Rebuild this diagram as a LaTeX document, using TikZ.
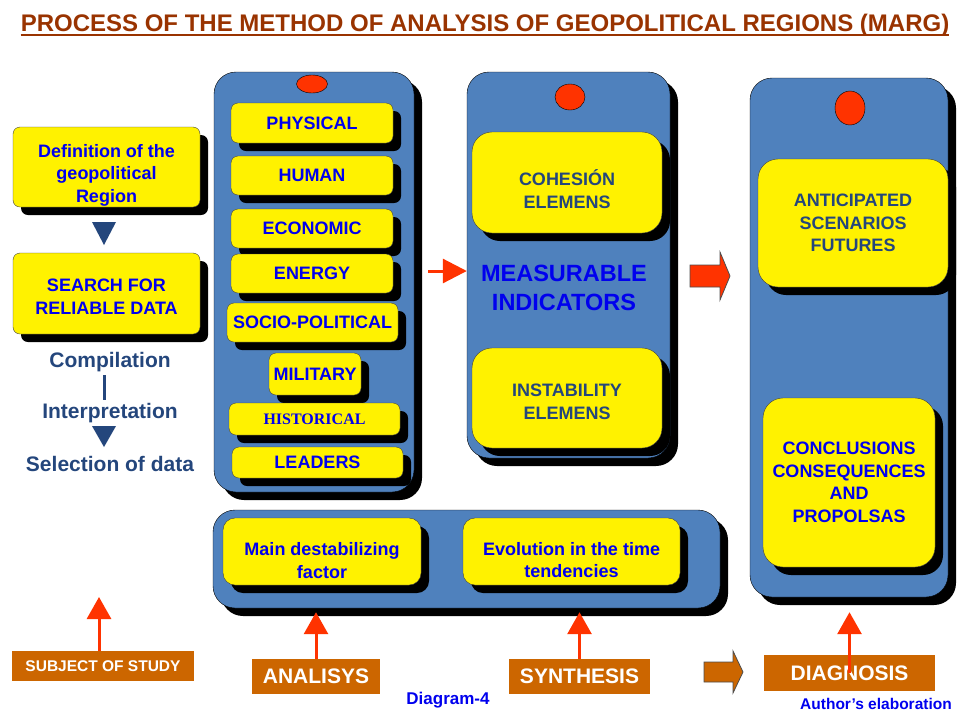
\documentclass[tikz,border=0pt]{standalone}
\usepackage{fontspec}
\setmainfont{Liberation Sans}
\newfontfamily\histfont{Liberation Serif}
\usetikzlibrary{arrows.meta,shadows,shapes.geometric,calc,positioning}

\definecolor{titlered}{RGB}{153,51,0}
\definecolor{panelblue}{RGB}{79,129,189}
\definecolor{textblue}{RGB}{0,0,238}
\definecolor{navy}{RGB}{36,70,124}
\definecolor{arrowred}{RGB}{255,51,0}
\definecolor{tagbrown}{RGB}{204,102,0}

\tikzset{
  blackshadow/.style={drop shadow={shadow xshift=8pt,shadow yshift=-8pt,opacity=1,fill=black}},
  panel/.style={draw=black, fill=panelblue, rounded corners=22pt, blackshadow},
  card/.style={draw=black!75, fill=yellow, rounded corners=7pt, inner sep=0pt, align=center,
    text=textblue, font=\fontsize{18}{22.5}\selectfont\bfseries, blackshadow},
  bigcard/.style={card, rounded corners=20pt},
  dot/.style={ellipse, draw=black, fill=arrowred, inner sep=0pt},
  note/.style={text=navy, font=\fontsize{21}{25}\selectfont\bfseries},
  tag/.style={fill=tagbrown, text=white, inner sep=0pt, font=\fontsize{21}{25}\selectfont\bfseries},
  uparrow/.style={draw=arrowred, line width=3pt, -{Triangle[width=24pt,length=22pt]}},
  blockarrow/.style={draw=black!70, line width=0.8pt}
}

\begin{document}
\begin{tikzpicture}[x=1pt,y=-1pt]
\useasboundingbox (0,0) rectangle (957,713);

% title
\node[anchor=base, inner sep=0pt, text=titlered, font=\fontsize{24}{28}\selectfont\bfseries] (title) at (485,31)
  {PROCESS OF THE METHOD OF ANALYSIS OF GEOPOLITICAL REGIONS (MARG)};
\draw[titlered, line width=2pt] ([yshift=-4pt]title.base west) -- ([yshift=-4pt]title.base east);

% left column
\node[card, minimum width=187pt, minimum height=80pt] (def) at (106.5,167) {\rule{0pt}{29pt}Definition of the\\geopolitical\\Region};
\node[card, minimum width=187pt, minimum height=81pt] (search) at (106.5,293.5) {\rule{0pt}{19pt}SEARCH FOR\\RELIABLE DATA};
\fill[navy] (92,222) -- (116,222) -- (104,245) -- cycle;
\node[note] (comp) at (110,362) {Compilation};
\node[note] (interp) at (110,413) {Interpretation};
\node[note] (sel) at (110,464) {Selection of data};
\draw[navy, line width=3pt] ([xshift=-6pt]comp.south) -- ([xshift=-6pt]interp.north);
\fill[navy] (92,426) -- (116,426) -- (104,447) -- cycle;

% factors
\node[panel, minimum width=200pt, minimum height=420pt] (factors) at (314,282) {};
\node[dot, minimum width=31pt, minimum height=18pt] (dot1) at (312,84) {};
\foreach \n/\x/\y/\w/\h/\txt in {
    phys/312/123/162/40/PHYSICAL,
    human/312/175.5/162/39/HUMAN,
    econ/312/228.5/162/39/ECONOMIC,
    energy/312/273.5/162/39/ENERGY,
    socio/312.5/322.5/171/39/SOCIO-POLITICAL,
    mil/315/374/92/42/MILITARY,
    hist/314.5/419/171/32/{\histfont\fontsize{16}{19}\selectfont HISTORICAL},
    lead/317.5/462.5/171/31/LEADERS}
    \node[card, minimum width=\w pt, minimum height=\h pt] (\n) at (\x,\y) {\txt};

% indicators
\node[panel, minimum width=203pt, minimum height=386pt] (indic) at (568.5,265) {};
\node[dot, minimum width=30pt, minimum height=26pt] (dot2) at (570,97) {};
\node[bigcard, text=navy, minimum width=190pt, minimum height=101pt] (cohes) at (567,182.5) {\rule{0pt}{29pt}COHESIÓN\\ELEMENS};
\node[text=textblue, align=center, font=\fontsize{23.5}{29}\selectfont\bfseries] (meas) at (564,288) {MEASURABLE\\INDICATORS};
\node[bigcard, text=navy, minimum width=190pt, minimum height=100pt] (instab) at (567,398) {\rule{0pt}{20pt}INSTABILITY\\ELEMENS};

% outcomes
\node[panel, minimum width=198pt, minimum height=519pt] (outcome) at (849,337.5) {};
\node[dot, minimum width=30pt, minimum height=34pt] (dot3) at (850,108) {};
\node[bigcard, text=navy, minimum width=190pt, minimum height=128pt] (antic) at (853,223) {ANTICIPATED\\SCENARIOS\\FUTURES};
\node[bigcard, minimum width=172pt, minimum height=169pt] (concl) at (849,482.5) {CONCLUSIONS\\CONSEQUENCES\\AND\\PROPOLSAS};

% method
\node[panel, minimum width=507pt, minimum height=98pt] (method) at (466.5,559) {};
\node[card, rounded corners=12pt, minimum width=198pt, minimum height=67pt] (mainfac) at (322,551.5) {\rule{0pt}{31pt}Main destabilizing\\factor};
\node[card, rounded corners=12pt, minimum width=217pt, minimum height=67pt] (evol) at (571.5,551.5) {\rule{0pt}{30pt}Evolution in the time\\tendencies};

% arrows between panels
\draw[draw=arrowred, line width=3pt, -{Triangle[width=24pt,length=24pt]}]
  ([xshift=14pt,yshift=11pt]factors.east) -- ([yshift=-6pt]indic.west);
\draw[blockarrow, fill=arrowred] (690,265) -- (720,265) -- (720,252) -- (730,276) -- (720,300) -- (720,287) -- (690,287) -- cycle;

% stages
\node[tag, minimum width=182pt, minimum height=30pt, font=\fontsize{15.5}{18}\selectfont\bfseries] (subj) at (103,666) {SUBJECT OF STUDY};
\node[tag, minimum width=128pt, minimum height=35pt] (anal) at (316,676.5) {ANALISYS};
\node[tag, minimum width=141pt, minimum height=35pt] (synth) at (579.5,676.5) {SYNTHESIS};
\node[tag, minimum width=171pt, minimum height=36pt] (diag) at (849.5,673) {DIAGNOSIS};
\draw[blockarrow, fill=tagbrown] (704,662) -- (733,662) -- (733,651) -- (743,672) -- (733,693) -- (733,682) -- (704,682) -- cycle;

\coordinate (subjtip) at (99,597);
\draw[uparrow] ([xshift=-4pt]subj.north) -- (subjtip);
\draw[uparrow] (anal.north) -- ($(anal.north |- method.south)+(0,4)$);
\draw[uparrow] (synth.north) -- ($(synth.north |- method.south)+(0,4)$);
\draw[uparrow] (diag.center) -- ($(diag.center |- outcome.south)+(0,15)$);

% footer
\node[text=textblue, font=\fontsize{17}{20}\selectfont\bfseries] (dgm) at (448,700) {Diagram-4};
\node[text=textblue, font=\fontsize{15.5}{18}\selectfont\bfseries] (author) at (876,703.5) {Author's elaboration};
\end{tikzpicture}
\end{document}
